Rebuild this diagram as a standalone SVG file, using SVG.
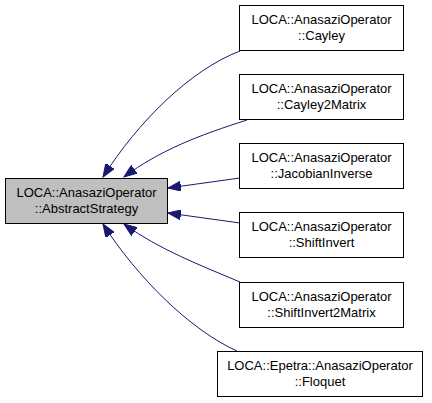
<svg xmlns="http://www.w3.org/2000/svg" width="432" height="403" viewBox="0 0 432 403">
<style>
.n rect{fill:#ffffff;stroke:#000000;stroke-width:1}
.n.base rect{fill:#bfbfbf}
.n text{font-family:"Liberation Sans",Arial,sans-serif;font-size:13px;text-anchor:middle;fill:#000000}
.e path{fill:none;stroke:#191970;stroke-width:1}
</style>
<defs>
<marker id="ah" markerUnits="userSpaceOnUse" markerWidth="14" markerHeight="10" refX="13" refY="5" orient="auto">
<path d="M0,0 L13,5 L0,10 Z" fill="#191970" stroke="#191970" stroke-width="1"/>
</marker>
</defs>
<rect width="432" height="403" fill="#ffffff"/>
<g id="connectors" class="e">
<path d="M240,51 C190,70 138,122 103,177" marker-end="url(#ah)"/>
<path d="M247,120 C200,135 160,150 124,177" marker-end="url(#ah)"/>
<path d="M240,178 L168,188" marker-end="url(#ah)"/>
<path d="M240,223 L168,213" marker-end="url(#ah)"/>
<path d="M240,282 C200,265 160,250 124,224" marker-end="url(#ah)"/>
<path d="M237,351 C190,330 137,277 103,224" marker-end="url(#ah)"/>
</g>
<g id="node-abstract" class="n base">
<rect x="5.5" y="178.5" width="162" height="45"/>
<text x="86.5" y="197">LOCA::AnasaziOperator</text>
<text x="86.5" y="213">::AbstractStrategy</text>
</g>
<g id="node-cayley" class="n">
<rect x="239.5" y="5.5" width="164" height="45"/>
<text x="321.5" y="24">LOCA::AnasaziOperator</text>
<text x="321.5" y="40">::Cayley</text>
</g>
<g id="node-cayley2matrix" class="n">
<rect x="239.5" y="74.5" width="164" height="45"/>
<text x="321.5" y="93">LOCA::AnasaziOperator</text>
<text x="321.5" y="109">::Cayley2Matrix</text>
</g>
<g id="node-jacobianinverse" class="n">
<rect x="239.5" y="143.5" width="164" height="45"/>
<text x="321.5" y="162">LOCA::AnasaziOperator</text>
<text x="321.5" y="178">::JacobianInverse</text>
</g>
<g id="node-shiftinvert" class="n">
<rect x="239.5" y="212.5" width="164" height="45"/>
<text x="321.5" y="231">LOCA::AnasaziOperator</text>
<text x="321.5" y="247">::ShiftInvert</text>
</g>
<g id="node-shiftinvert2matrix" class="n">
<rect x="239.5" y="282.5" width="164" height="45"/>
<text x="321.5" y="301">LOCA::AnasaziOperator</text>
<text x="321.5" y="317">::ShiftInvert2Matrix</text>
</g>
<g id="node-floquet" class="n">
<rect x="217.5" y="351.5" width="205" height="45"/>
<text x="320" y="370">LOCA::Epetra::AnasaziOperator</text>
<text x="320" y="386">::Floquet</text>
</g>
</svg>
